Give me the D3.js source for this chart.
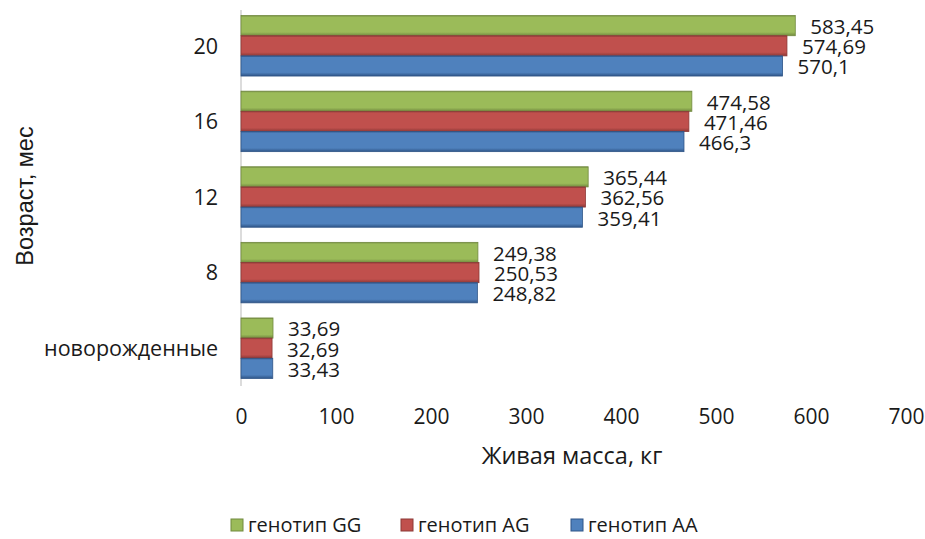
<!DOCTYPE html>
<html>
<head>
<meta charset="utf-8">
<script src="https://cdn.jsdelivr.net/npm/d3@7"></script>
<style>
  html, body { margin: 0; padding: 0; background: #fff; }
  svg { display: block; }
  text { fill: #1a1a1a; }
</style>
</head>
<body>
<svg id="chart" width="925" height="539"></svg>
<script>
// Age groups (top to bottom) and live weight per genotype, kg
const categories = ["20", "16", "12", "8", "новорожденные"];
const seriesNames = ["генотип GG", "генотип AG", "генотип AA"];
const valuesGG = [583.45, 474.58, 365.44, 249.38, 33.69];
const valuesAG = [574.69, 471.46, 362.56, 250.53, 32.69];
const valuesAA = [570.1, 466.3, 359.41, 248.82, 33.43];
const xTicks = [0, 100, 200, 300, 400, 500, 600, 700];
const xTitle = "Живая масса, кг";
const yTitle = "Возраст, мес";

const colors = {
  "генотип GG": { fill: "#9bbb59", dark: "#71893f" },
  "генотип AG": { fill: "#c0504d", dark: "#8c3836" },
  "генотип AA": { fill: "#4f81bd", dark: "#2f5587" }
};

const seriesValues = [valuesGG, valuesAG, valuesAA];
const rows = categories.map((c, i) => ({
  category: c,
  bars: seriesNames.map((s, k) => ({ series: s, value: seriesValues[k][i] }))
}));

const svg = d3.select("#chart");
const font = "'Open Sans', 'DejaVu Sans', sans-serif";

const x = d3.scaleLinear().domain([0, 700]).range([241, 906]);
const y0 = d3.scaleBand().domain(categories).range([8, 386])
  .paddingInner(0.2).paddingOuter(0.1);
const y1 = d3.scaleBand().domain(seriesNames).range([0, y0.bandwidth()]);

// Bar gradients: flat body with darker top and bottom edges
const defs = svg.append("defs");
seriesNames.forEach((s, k) => {
  const g = defs.append("linearGradient")
    .attr("id", "grad" + k).attr("x1", 0).attr("y1", 0).attr("x2", 0).attr("y2", 1);
  g.append("stop").attr("offset", "0%").attr("stop-color", colors[s].dark);
  g.append("stop").attr("offset", "8%").attr("stop-color", colors[s].fill);
  g.append("stop").attr("offset", "82%").attr("stop-color", colors[s].fill);
  g.append("stop").attr("offset", "100%").attr("stop-color", colors[s].dark);
});

// Category axis line
svg.append("line")
  .attr("x1", x(0)).attr("x2", x(0))
  .attr("y1", y0.range()[0] + 2).attr("y2", y0.range()[1])
  .attr("stroke", "#d0d0d0").attr("stroke-width", 1.5);

// Bars
const groups = svg.append("g").selectAll("g").data(rows).join("g")
  .attr("transform", d => `translate(0,${y0(d.category)})`);

groups.selectAll("rect").data(d => d.bars).join("rect")
  .attr("x", x(0))
  .attr("y", d => y1(d.series))
  .attr("width", d => x(d.value) - x(0))
  .attr("height", y1.bandwidth())
  .attr("fill", d => `url(#grad${seriesNames.indexOf(d.series)})`)
  .attr("stroke", d => colors[d.series].dark)
  .attr("stroke-width", 0.8);

// Value labels
const fmt = v => String(v).replace(".", ",");
groups.selectAll("text.val").data(d => d.bars).join("text")
  .attr("class", "val")
  .attr("x", d => x(d.value) + 15)
  .attr("y", d => y1(d.series) + y1.bandwidth() / 2 + 1)
  .attr("dy", "0.36em")
  .attr("font-family", font).attr("font-size", 20.5)
  .text(d => fmt(d.value));

// Category labels
svg.append("g").selectAll("text").data(categories).join("text")
  .attr("x", 218)
  .attr("y", d => y0(d) + y0.bandwidth() / 2)
  .attr("dy", "0.36em")
  .attr("text-anchor", "end")
  .attr("font-family", font).attr("font-size", 21.5)
  .text(d => d);

// Value axis tick labels
const xAxis = d3.axisBottom(x).tickValues(xTicks).tickSize(0).tickPadding(0)
  .tickFormat(d3.format("d"));
const gx = svg.append("g").attr("transform", "translate(0,409)").call(xAxis);
gx.select(".domain").remove();
gx.selectAll("text")
  .attr("font-family", font).attr("font-size", 21).attr("fill", "#1a1a1a")
  .attr("dy", "0.71em").attr("y", 0);

// Axis titles
svg.append("text")
  .attr("x", 572).attr("y", 456).attr("dy", "0.36em")
  .attr("text-anchor", "middle")
  .attr("font-family", font).attr("font-size", 23.5)
  .text(xTitle);

svg.append("text")
  .attr("transform", "translate(25,196) rotate(-90)")
  .attr("dy", "0.36em")
  .attr("text-anchor", "middle")
  .attr("font-family", "'Liberation Sans', Arial, sans-serif").attr("font-size", 23.5)
  .text(yTitle);

// Legend
const legend = svg.append("g").selectAll("g").data(seriesNames).join("g")
  .attr("transform", (d, i) => `translate(${231 + i * 170},519)`);
legend.append("rect")
  .attr("width", 12).attr("height", 12)
  .attr("fill", d => colors[d].fill)
  .attr("stroke", d => colors[d].dark).attr("stroke-width", 1);
legend.append("text")
  .attr("x", 17).attr("y", 6).attr("dy", "0.36em")
  .attr("font-family", font).attr("font-size", 20)
  .text(d => d);
</script>
</body>
</html>
